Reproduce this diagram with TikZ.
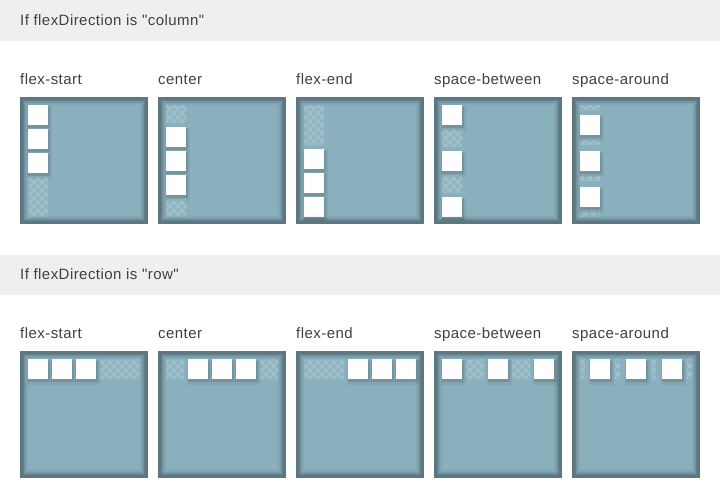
\documentclass[tikz,border=0pt]{standalone}
\usepackage{fontspec}
\setmainfont{Liberation Sans}[Ligatures=TeXOff, LetterSpace=3]
\usetikzlibrary{patterns.meta}
\definecolor{headbg}{HTML}{EFEFEF}
\definecolor{txt}{HTML}{404040}
\definecolor{boxfill}{HTML}{8AB0BE}
\definecolor{boxborder}{HTML}{5B7882}
\definecolor{chkL}{HTML}{9FC0CB}
\definecolor{chkD}{HTML}{8FB4C1}
\tikzdeclarepattern{
  name=chkpat,
  type=uncolored,
  bounding box={(0pt,0pt) and (8pt,8pt)},
  tile size={(8pt,8pt)},
  code={
    \pgfpathrectangle{\pgfpointorigin}{\pgfqpoint{4pt}{4pt}}
    \pgfpathrectangle{\pgfqpoint{4pt}{4pt}}{\pgfqpoint{4pt}{4pt}}
    \pgfusepath{fill}
  }
}
\tikzset{
  headtext/.style={anchor=base west, text=txt, inner sep=0pt, font=\fontsize{15}{18}\selectfont},
  labeltext/.style={anchor=base west, text=txt, inner sep=0pt, font=\fontsize{15}{18}\selectfont},
}
% box: #1 = left x, #2 = top y
\newcommand\fxbox[2]{%
  \fill[boxfill] (#1,#2) rectangle ({#1+128},{#2+127});
}
\newcommand\fxframe[2]{%
  \foreach \i/\o in {3/0.26,4/0.18,5/0.12,6/0.07,7/0.04,8/0.02}{%
    \draw[black, opacity=\o, line width=1pt] ({#1+\i+0.5},{#2+\i+0.5}) rectangle ({#1+127.5-\i},{#2+126.5-\i});
  }
  \draw[boxborder, line width=3pt] ({#1+1.5},{#2+1.5}) rectangle ({#1+126.5},{#2+125.5});
}
\newcommand\chkrect[4]{%
  \fill[chkL] (#1,#2) rectangle (#3,#4);
  \fill[pattern=chkpat, pattern color=chkD] (#1,#2) rectangle (#3,#4);
}
\newcommand\itemsq[2]{%
  \fill[black, opacity=0.06] ({#1-1},{#2+1}) rectangle ({#1+24},{#2+26});
  \fill[black, opacity=0.10] ({#1},{#2+2}) rectangle ({#1+22},{#2+23});
  \fill[white] (#1,#2) rectangle ({#1+20},{#2+20});
}
% column direction: #1 = box x, #2 = offset
\newcommand\citem[2]{\itemsq{#1+8}{105+#2}}
\newcommand\cchk[3]{\chkrect{#1+8}{105+#2}{#1+28}{105+#3}}
% row direction
\newcommand\ritem[2]{\itemsq{#1+8+#2}{359}}
\newcommand\rchk[3]{\chkrect{#1+8+#2}{359}{#1+8+#3}{379}}
\begin{document}
\begin{tikzpicture}[x=1pt, y=-1pt]
\useasboundingbox (0,0) rectangle (720,499);
\fill[white] (0,0) rectangle (720,499);
% headers
\fill[headbg] (0,0) rectangle (720,41);
\fill[headbg] (0,255) rectangle (720,295);
\node[headtext] (h1) at (20,25.5) {If flexDirection is "column"};
\node[headtext] (h2) at (20,279.5) {If flexDirection is "row"};
% labels
\node[labeltext] (c1) at (20,84.5) {flex-start};
\node[labeltext] (c2) at (158,84.5) {center};
\node[labeltext] (c3) at (296,84.5) {flex-end};
\node[labeltext] (c4) at (434,84.5) {space-between};
\node[labeltext] (c5) at (572,84.5) {space-around};
\node[labeltext] (r1) at (20,338.5) {flex-start};
\node[labeltext] (r2) at (158,338.5) {center};
\node[labeltext] (r3) at (296,338.5) {flex-end};
\node[labeltext] (r4) at (434,338.5) {space-between};
\node[labeltext] (r5) at (572,338.5) {space-around};
% boxes
\foreach \X in {20,158,296,434,572}{\fxbox{\X}{97}\fxbox{\X}{351}}
% column direction
\cchk{20}{72}{112}
\citem{20}{0}\citem{20}{24}\citem{20}{48}
\cchk{158}{0}{18}\cchk{158}{94}{112}
\citem{158}{22}\citem{158}{46}\citem{158}{70}
\cchk{296}{0}{40}
\citem{296}{44}\citem{296}{68}\citem{296}{92}
\cchk{434}{24}{42}\cchk{434}{70}{88}
\citem{434}{0}\citem{434}{46}\citem{434}{92}
\cchk{572}{0}{5}\cchk{572}{35}{40}\cchk{572}{71}{76}\cchk{572}{107}{112}
\citem{572}{10}\citem{572}{46}\citem{572}{82}
% row direction
\rchk{20}{72}{112}
\ritem{20}{0}\ritem{20}{24}\ritem{20}{48}
\rchk{158}{0}{18}\rchk{158}{94}{112}
\ritem{158}{22}\ritem{158}{46}\ritem{158}{70}
\rchk{296}{0}{40}
\ritem{296}{44}\ritem{296}{68}\ritem{296}{92}
\rchk{434}{24}{42}\rchk{434}{70}{88}
\ritem{434}{0}\ritem{434}{46}\ritem{434}{92}
\rchk{572}{0}{5}\rchk{572}{35}{40}\rchk{572}{71}{76}\rchk{572}{107}{112}
\ritem{572}{10}\ritem{572}{46}\ritem{572}{82}
% frames
\foreach \X in {20,158,296,434,572}{\fxframe{\X}{97}\fxframe{\X}{351}}
\end{tikzpicture}
\end{document}
